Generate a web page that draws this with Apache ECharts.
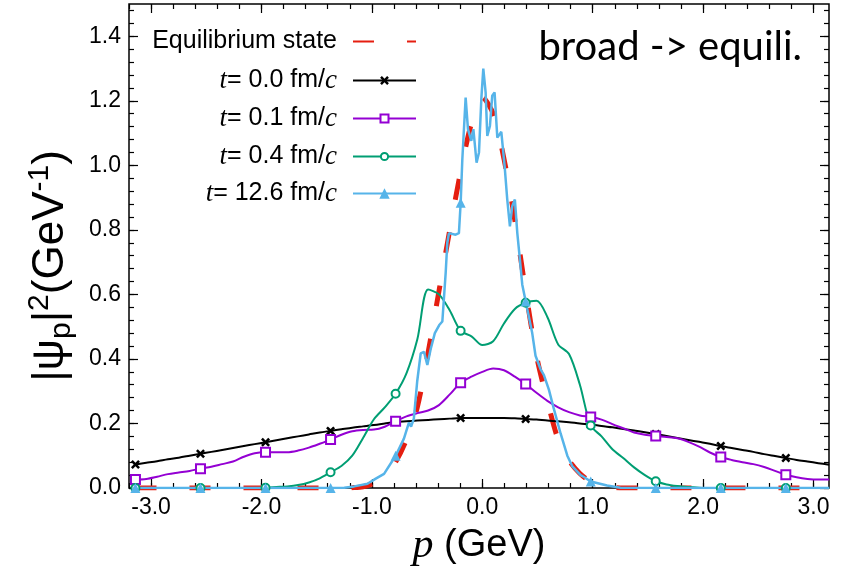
<!DOCTYPE html>
<html>
<head>
<meta charset="utf-8">
<title>broad -> equili.</title>
<script src="https://cdn.jsdelivr.net/npm/echarts@6/dist/echarts.min.js"></script>
<style>html,body{margin:0;padding:0;background:#fff;}</style>
</head>
<body>
<div id="main" style="width:846px;height:571px;"></div>
<script type="text/javascript">
    // momentum grid: -pi .. pi, step pi/32 (65 points), markers every 6th point
    var gridStep = Math.PI / 32;
    var markStep = 3 * Math.PI / 16;

    var names = ['Equilibrium state', 't= 0.0 fm/c', 't= 0.1 fm/c', 't= 0.4 fm/c', 't= 12.6 fm/c'];

    var vEquil = [0, 0, 0, 0, 0, 0, 0, 0, 0, 0, 0, 0, 0, 0, 0, 0, 0, 0, 0, 0,
        0.001, 0.004, 0.015, 0.035, 0.08, 0.15, 0.25, 0.42, 0.61, 0.80, 0.98, 1.13,
        1.21, 1.16, 1.02, 0.83, 0.61, 0.41, 0.27, 0.15, 0.085, 0.045, 0.02, 0.007, 0.002,
        0, 0, 0, 0, 0, 0, 0, 0, 0, 0, 0, 0, 0, 0, 0, 0, 0, 0, 0, 0];

    var vT00 = [0.073, 0.078, 0.083, 0.089, 0.094, 0.100, 0.106, 0.112, 0.118, 0.124,
        0.130, 0.136, 0.142, 0.148, 0.154, 0.160, 0.166, 0.172, 0.177, 0.182,
        0.187, 0.191, 0.195, 0.200, 0.205, 0.207, 0.209, 0.211, 0.213, 0.215,
        0.217, 0.217, 0.217, 0.217, 0.217, 0.216, 0.214, 0.212, 0.209, 0.207,
        0.204, 0.200, 0.197, 0.192, 0.188, 0.183, 0.178, 0.173, 0.167, 0.161,
        0.155, 0.149, 0.143, 0.137, 0.130, 0.124, 0.118, 0.112, 0.105, 0.099,
        0.093, 0.087, 0.082, 0.077, 0.072];

    var vT01 = [0.026, 0.028, 0.035, 0.043, 0.048, 0.053, 0.060, 0.066, 0.074, 0.082,
        0.097, 0.108, 0.111, 0.111, 0.111, 0.116, 0.125, 0.137, 0.150, 0.165,
        0.176, 0.180, 0.181, 0.190, 0.207, 0.222, 0.232, 0.240, 0.257, 0.290,
        0.326, 0.345, 0.360, 0.370, 0.365, 0.345, 0.322, 0.295, 0.270, 0.250,
        0.235, 0.225, 0.220, 0.212, 0.198, 0.185, 0.172, 0.165, 0.161, 0.158,
        0.154, 0.143, 0.128, 0.110, 0.096, 0.087, 0.080, 0.074, 0.065, 0.053,
        0.041, 0.033, 0.028, 0.026, 0.026];

    var vT04 = [0, 0, 0, 0, 0, 0, 0, 0, 0, 0, 0, 0,
        0.001, 0.003, 0.005, 0.009, 0.017, 0.030, 0.049, 0.068, 0.100, 0.155,
        0.213, 0.250, 0.292, 0.355, 0.460, 0.615, 0.600, 0.550, 0.487, 0.470,
        0.443, 0.455, 0.510, 0.555, 0.574, 0.580, 0.530, 0.445, 0.415, 0.320,
        0.194, 0.160, 0.120, 0.093, 0.064, 0.040, 0.021, 0.011, 0.006, 0.003, 0.001,
        0, 0, 0, 0, 0, 0, 0, 0, 0, 0, 0, 0];

    // t = 12.6 fm/c, read at its own points [p, value]
    var vT126 = [
        [-3.142, 0], [-2.553, 0], [-1.963, 0], [-1.374, 0], [-1.25, 0.001],
        [-1.16, 0.005], [-1.04, 0.013], [-0.965, 0.029], [-0.89, 0.044], [-0.785, 0.10],
        [-0.71, 0.153], [-0.664, 0.203], [-0.645, 0.19], [-0.62, 0.215], [-0.59, 0.33],
        [-0.558, 0.417], [-0.528, 0.422], [-0.498, 0.381], [-0.468, 0.43], [-0.43, 0.48],
        [-0.39, 0.505], [-0.362, 0.516], [-0.332, 0.666], [-0.317, 0.76], [-0.302, 0.79],
        [-0.242, 0.785], [-0.212, 0.79], [-0.196, 0.884], [-0.181, 1.019], [-0.151, 1.21],
        [-0.13, 1.112], [-0.1, 1.076], [-0.081, 1.112], [-0.052, 1.008], [-0.03, 1.04],
        [-0.009, 1.205], [0.009, 1.30], [0.03, 1.226], [0.045, 1.091], [0.069, 1.122],
        [0.09, 1.216], [0.111, 1.226], [0.136, 1.086], [0.172, 1.104], [0.202, 0.998],
        [0.226, 0.894], [0.25, 0.811], [0.271, 0.873], [0.295, 0.894], [0.317, 0.79],
        [0.337, 0.72], [0.362, 0.63], [0.393, 0.578], [0.452, 0.48], [0.482, 0.41],
        [0.528, 0.368], [0.558, 0.35], [0.603, 0.305], [0.648, 0.245], [0.709, 0.169],
        [0.77, 0.10], [0.814, 0.068], [0.89, 0.04], [0.92, 0.034], [0.982, 0.02],
        [1.13, 0.008], [1.25, 0.001], [1.571, 0], [2.160, 0], [2.749, 0], [3.142, 0]
    ];

    var xMajor = [-3, -2, -1, 0, 1, 2, 3];
    var yMajor = [0, 0.2, 0.4, 0.6, 0.8, 1.0, 1.2, 1.4];

    var xMinor = [];
    for (var i = 0; i <= 31; i++) xMinor.push(+(-3.2 + i * 0.2).toFixed(2));
    var yMinor = [];
    for (var j = 0; j <= 37; j++) yMinor.push(+(j * 0.04).toFixed(2));

    function onGrid(vals) {
        return vals.map(function (v, k) { return [-Math.PI + k * gridStep, v]; });
    }
    function isMark(p) {
        var k = (p + Math.PI) / markStep;
        return Math.abs(k - Math.round(k)) * markStep < 0.004;
    }
    function sizer(n) {
        return function (val) { return isMark(val[0]) ? n : 0; };
    }

    var crossPath = 'path://M0,2L2,0L5,3L8,0L10,2L7,5L10,8L8,10L5,7L2,10L0,8L3,5Z';

    function xAx(pos, ticks, len, withLabel) {
        return {
            type: 'value', min: -3.2, max: 3.14, position: pos,
            axisLine: {show: false, onZero: false},
            splitLine: {show: false},
            axisTick: {inside: true, length: len, customValues: ticks, lineStyle: {color: '#000', width: 1.2}},
            axisLabel: withLabel ? {
                customValues: xMajor, margin: 8, color: '#000', fontSize: 23,
                fontFamily: 'Liberation Sans',
                formatter: function (v) { return v.toFixed(1); }
            } : {show: false}
        };
    }
    function yAx(pos, ticks, len, withLabel) {
        return {
            type: 'value', min: 0, max: 1.5, position: pos,
            axisLine: {show: false, onZero: false},
            splitLine: {show: false},
            axisTick: {inside: true, length: len, customValues: ticks, lineStyle: {color: '#000', width: 1.2}},
            axisLabel: withLabel ? {
                customValues: yMajor, margin: 8, color: '#000', fontSize: 23,
                fontFamily: 'Liberation Sans',
                formatter: function (v) { return v.toFixed(1); }
            } : {show: false}
        };
    }

    var xAxes = [xAx('bottom', xMajor, 9, true), xAx('bottom', xMinor, 5, false),
                 xAx('top', xMajor, 9, false), xAx('top', xMinor, 5, false)];
    xAxes[0].name = '{i|p} (GeV)';
    xAxes[0].nameLocation = 'middle';
    xAxes[0].nameGap = 37;
    xAxes[0].nameTextStyle = {
        fontSize: 38, fontFamily: 'Liberation Sans', color: '#000',
        rich: {i: {fontSize: 42, fontFamily: 'Liberation Serif', fontStyle: 'italic'}}
    };

    var yAxes = [yAx('left', yMajor, 9, true), yAx('left', yMinor, 5, false),
                 yAx('right', yMajor, 9, false), yAx('right', yMinor, 5, false)];
    yAxes[0].name = '|ψ{sub|p}|{sup|2}(GeV{sup|-1})';
    yAxes[0].nameLocation = 'middle';
    yAxes[0].nameGap = 52;
    yAxes[0].nameTextStyle = {
        fontSize: 44, fontFamily: 'Liberation Sans', color: '#000', lineHeight: 52,
        padding: [0, 40, 0, 0],
        rich: {
            sub: {fontSize: 30, verticalAlign: 'bottom', lineHeight: 30},
            sup: {fontSize: 30, verticalAlign: 'top', lineHeight: 30}
        }
    };

    var legendRows = [41, 79, 117, 155, 192];
    var legendH = [10, 11, 10, 9, 13];
    var legends = names.map(function (n, k) {
        var item = {name: n};
        if (k === 0) item.itemStyle = {opacity: 0};
        return {
            data: [item], orient: 'vertical', align: 'right',
            right: 429, top: legendRows[k] - 12, padding: 0,
            itemWidth: 63, itemHeight: legendH[k], selectedMode: false,
            textStyle: {
                fontSize: 25, fontFamily: 'Liberation Sans', color: '#000', padding: [0, 11, 0, 0],
                rich: {i: {fontSize: 27, fontFamily: 'Liberation Serif', fontStyle: 'italic'}}
            },
            formatter: function (name) {
                return name.replace(/^t/, '{i|t}').replace(/c$/, '{i|c}');
            }
        };
    });

    var option = {
        animation: false,
        title: {
            text: 'broad -> equili.', right: 44, top: 27, padding: 0,
            textStyle: {fontFamily: 'Lato', fontSize: 40, fontWeight: 'normal', color: '#000'}
        },
        legend: legends,
        grid: {
            left: 129, right: 17, top: 4, bottom: 83, show: true,
            borderColor: '#000', borderWidth: 1.5, outerBoundsMode: 'none'
        },
        xAxis: xAxes,
        yAxis: yAxes,
        series: [
            {
                name: names[0], type: 'line', data: onGrid(vEquil), smooth: 0.3,
                symbol: 'none', itemStyle: {color: '#e51e10'},
                lineStyle: {color: '#e51e10', width: 5, type: [21, 33]}
            },
            {
                name: names[1], type: 'line', data: onGrid(vT00), smooth: 0.3,
                symbol: crossPath, symbolSize: sizer(9), itemStyle: {color: '#000'},
                lineStyle: {color: '#000', width: 2}
            },
            {
                name: names[2], type: 'line', data: onGrid(vT01), smooth: 0.3,
                symbol: 'emptyRect', symbolSize: sizer(9), itemStyle: {color: '#9400d3', borderWidth: 1.6},
                lineStyle: {color: '#9400d3', width: 2}
            },
            {
                name: names[3], type: 'line', data: onGrid(vT04), smooth: 0.3,
                symbol: 'emptyCircle', symbolSize: sizer(8), itemStyle: {color: '#009e73', borderWidth: 1.6},
                lineStyle: {color: '#009e73', width: 2}
            },
            {
                name: names[4], type: 'line', data: vT126,
                symbol: 'triangle', symbolSize: sizer(10), itemStyle: {color: '#56b4e9'},
                lineStyle: {color: '#56b4e9', width: 2.5}
            }
        ]
    };

    var myChart = echarts.init(document.getElementById('main'));
    myChart.setOption(option);
</script>
</body>
</html>
